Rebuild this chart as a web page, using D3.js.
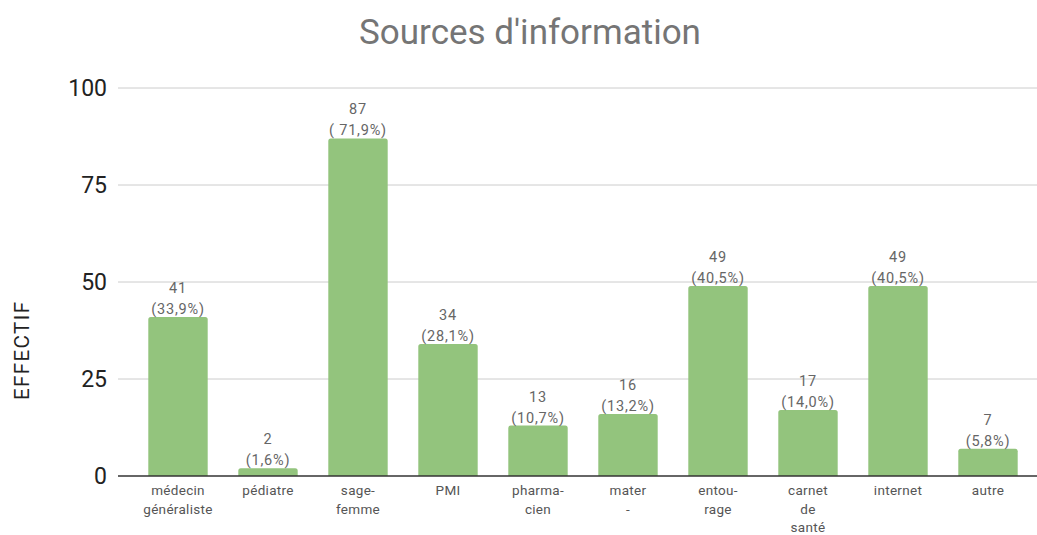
<!DOCTYPE html>
<html><head><meta charset="utf-8">
<script src="https://cdn.jsdelivr.net/npm/d3@7"></script>
<style>body{margin:0;background:#fff}svg{display:block}</style>
</head><body>
<svg id="c" width="1037" height="535"></svg>
<script>
const categories = [["médecin","généraliste"],["pédiatre"],["sage-","femme"],["PMI"],["pharma-","cien"],["mater","-"],["entou-","rage"],["carnet","de","santé"],["internet"],["autre"]];
const values = [41, 2, 87, 34, 13, 16, 49, 17, 49, 7];
const percents = ["(33,9%)","(1,6%)","( 71,9%)","(28,1%)","(10,7%)","(13,2%)","(40,5%)","(14,0%)","(40,5%)","(5,8%)"];
const yTicks = [0, 25, 50, 75, 100];
const title = "Sources d'information";
const yTitle = "EFFECTIF";

const svg = d3.select("#c");
const font = "Roboto, Arial, sans-serif";
const x = d3.scaleBand().domain(d3.range(values.length)).range([133, 1033]).paddingInner(0.34).paddingOuter(0.17);
const y = d3.scaleLinear().domain([0, 100]).range([476, 88]);

svg.append("text").attr("x", 530).attr("y", 44).attr("text-anchor", "middle")
  .attr("font-family", font).attr("font-size", 35).attr("fill", "#757575").text(title);

svg.append("text").attr("transform", "translate(29,351) rotate(-90)").attr("text-anchor", "middle")
  .attr("font-family", font).attr("font-size", 20.5).attr("fill", "#222")
  .attr("textLength", 98).attr("lengthAdjust", "spacing").text(yTitle);

const grid = svg.append("g");
grid.selectAll("line").data(yTicks.filter(d => d > 0)).join("line")
  .attr("x1", 118).attr("x2", 1037).attr("y1", d => y(d)).attr("y2", d => y(d))
  .attr("stroke", "#cccccc").attr("stroke-width", 1);

const yAxis = d3.axisLeft(y).tickValues(yTicks).tickSize(0).tickPadding(11);
const ga = svg.append("g").attr("transform", "translate(118,0)").call(yAxis);
ga.select(".domain").remove();
ga.selectAll("text").attr("font-family", font).attr("font-size", 23).attr("fill", "#222");

const r = 2.5;
svg.append("g").selectAll("path").data(values).join("path")
  .attr("fill", "#93c47d")
  .attr("d", (d, i) => {
    const x0 = x(i), w = x.bandwidth(), yt = y(d), yb = y(0);
    return `M${x0},${yb}V${yt + r}Q${x0},${yt} ${x0 + r},${yt}H${x0 + w - r}Q${x0 + w},${yt} ${x0 + w},${yt + r}V${yb}Z`;
  });

svg.append("line").attr("x1", 118).attr("x2", 1037).attr("y1", y(0)).attr("y2", y(0))
  .attr("stroke", "#333").attr("stroke-width", 1.5);

const lab = svg.append("g").selectAll("text").data(values).join("text")
  .attr("text-anchor", "middle").attr("font-family", font).attr("font-size", 14.5)
  .attr("letter-spacing", 0.8).attr("fill", "#666");
lab.append("tspan").attr("x", (d, i) => x(i) + x.bandwidth() / 2).attr("y", d => y(d) - 24).text(d => d);
lab.append("tspan").attr("x", (d, i) => x(i) + x.bandwidth() / 2).attr("y", d => y(d) - 3).text((d, i) => percents[i]);

const xl = svg.append("g").selectAll("text").data(categories).join("text")
  .attr("text-anchor", "middle").attr("font-family", font).attr("font-size", 13.5)
  .attr("letter-spacing", 0.3).attr("fill", "#555");
xl.selectAll("tspan").data((d, i) => d.map(t => ({t, i}))).join("tspan")
  .attr("x", d => x(d.i) + x.bandwidth() / 2).attr("y", (d, j) => 495 + j * 18.5).text(d => d.t);
</script>
</body></html>
